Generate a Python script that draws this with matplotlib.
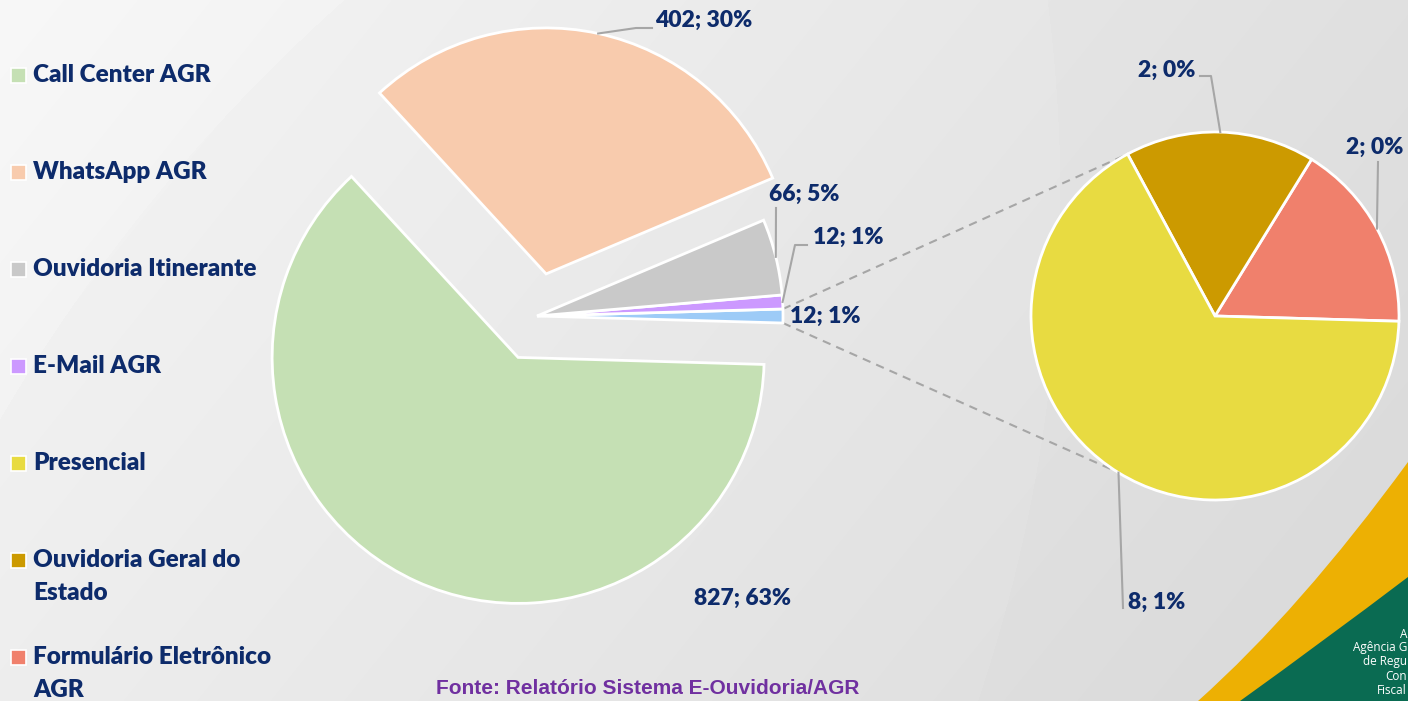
import matplotlib.pyplot as plt
import numpy as np
from matplotlib.patches import Rectangle, PathPatch
from matplotlib.path import Path

# data
categories = ['Call Center AGR', 'WhatsApp AGR', 'Ouvidoria Itinerante', 'E-Mail AGR',
              'Presencial', 'Ouvidoria Geral do Estado', 'Formulário Eletrônico AGR']
legend_labels = ['Call Center AGR', 'WhatsApp AGR', 'Ouvidoria Itinerante', 'E-Mail AGR',
                 'Presencial', 'Ouvidoria Geral do\nEstado', 'Formulário Eletrônico\nAGR']
counts = [827, 402, 66, 12, 8, 2, 2]
colors = ['#C5E0B4', '#F8CBAD', '#C9C9C9', '#CC99FF', '#E8DB41', '#CC9A00', '#F0806C']
other_color = '#9DCBF7'
source = 'Fonte: Relatório Sistema E-Ouvidoria/AGR'
logo_lines = ['A', 'Agência G', 'de Regu', 'Con', 'Fiscal']

W, H = 1408, 701
NAVY = '#0D2B6B'
LEADER = '#A6A6A6'
FONT = 'Lato'

fig = plt.figure(figsize=(W / 100, H / 100), dpi=100)
ax = fig.add_axes([0, 0, 1, 1])


def py(y):
    # pixel row (top-down) -> data y
    return H - y


# background
yy, xx = np.mgrid[0:H, 0:W]
bg = 0.972 - 0.075 * (xx / W) - 0.03 * (yy / H)
bg -= 0.010 * (np.hypot(xx - 1500, yy - 1300) < 1740)
bg -= 0.008 * (np.hypot(xx + 500, yy - 200) > 1560)
ax.imshow(np.dstack([bg, bg, bg]), extent=[0, W, 0, H], origin='upper', zorder=0)

# logo corner
orange = Path([(1198, py(701)), (1300, py(610)), (1408, py(462)), (1408, py(701)), (1198, py(701))],
              [Path.MOVETO, Path.CURVE3, Path.CURVE3, Path.LINETO, Path.CLOSEPOLY])
ax.add_patch(PathPatch(orange, facecolor='#EDB003', edgecolor='none', zorder=1))
green = Path([(1240, py(701)), (1325, py(640)), (1408, py(577)), (1408, py(701)), (1240, py(701))],
             [Path.MOVETO, Path.CURVE3, Path.CURVE3, Path.LINETO, Path.CLOSEPOLY])
ax.add_patch(PathPatch(green, facecolor='#0A6B52', edgecolor='none', zorder=1))
for i, line in enumerate(logo_lines):
    ax.text(1407, py(634 + 14 * i), line, color='white', fontsize=8.5, ha='right', va='center',
            family='Open Sans', zorder=2)

# main pie: others wedge first so it sits on the right
total = sum(counts)
main_vals = [sum(counts[4:]), counts[3], counts[2], counts[1], counts[0]]
main_cols = [other_color, colors[3], colors[2], colors[1], colors[0]]
start = -180 * main_vals[0] / total
main_c = (537, py(316))
main_r = 246
wedges_main, _ = ax.pie(main_vals, colors=main_cols, startangle=start, center=main_c, radius=main_r,
                        explode=[0, 0, 0, 0.175 * main_r, 0.185 * main_r],
                        wedgeprops=dict(edgecolor='white', linewidth=2))
for w in wedges_main:
    w.set_zorder(3)

# secondary pie
sec_vals = [counts[6], counts[5], counts[4]]
sec_cols = [colors[6], colors[5], colors[4]]
sec_c = (1215, py(316))
sec_r = 184
wedges_sec, _ = ax.pie(sec_vals, colors=sec_cols, startangle=start, center=sec_c, radius=sec_r,
                       wedgeprops=dict(edgecolor='white', linewidth=2))
for w in wedges_sec:
    w.set_zorder(3)

# connector lines
ow = wedges_main[0]
for th_main, th_sec in [(ow.theta2, 118.5), (ow.theta1, 238)]:
    x0 = main_c[0] + main_r * np.cos(np.deg2rad(th_main))
    y0 = main_c[1] + main_r * np.sin(np.deg2rad(th_main))
    x1 = sec_c[0] + sec_r * np.cos(np.deg2rad(th_sec))
    y1 = sec_c[1] + sec_r * np.sin(np.deg2rad(th_sec))
    ax.plot([x0, x1], [y0, y1], color=LEADER, lw=1.5, ls=(0, (4, 3)), zorder=2)


def edge_point(w):
    mid = np.deg2rad((w.theta1 + w.theta2) / 2)
    return w.center[0] + w.r * np.cos(mid), w.center[1] + w.r * np.sin(mid)


def label(w, value, pos, elbow):
    txt = f'{value}; {round(100 * value / total)}%'
    ax.text(pos[0], py(pos[1]), txt, color=NAVY, fontsize=16.5, fontweight='heavy', family=FONT,
            ha='center', va='center', zorder=5)
    if elbow:
        ex, ey = edge_point(w)
        xs = [ex] + [p[0] for p in elbow]
        ys = [ey] + [py(p[1]) for p in elbow]
        ax.plot(xs, ys, color=LEADER, lw=1.5, zorder=4)


# label text positions and leader elbows (pixels)
label(wedges_main[0], main_vals[0], (825, 316), None)
label(wedges_main[1], main_vals[1], (848, 237), [(795, 245), (807, 245)])
label(wedges_main[2], main_vals[2], (804, 194), [(776, 208)])
label(wedges_main[3], main_vals[3], (704, 20), [(636, 28), (652, 28)])
label(wedges_main[4], main_vals[4], (742, 598), None)
label(wedges_sec[0], sec_vals[0], (1375, 147), [(1378, 162)])
label(wedges_sec[1], sec_vals[1], (1167, 70), [(1211, 76), (1200, 76)])
label(wedges_sec[2], sec_vals[2], (1157, 602), [(1123, 608)])

# legend
for i, (lab, col) in enumerate(zip(legend_labels, colors)):
    y0 = 75 + 97 * i
    ax.add_patch(Rectangle((11, py(y0) - 7.5), 15, 15, facecolor=col, edgecolor='white', lw=1.2, zorder=5))
    for k, line in enumerate(lab.split('\n')):
        ax.text(33, py(y0 + 33 * k), line, color=NAVY, fontsize=17.5, fontweight='heavy', family=FONT,
                ha='left', va='center', zorder=5)

ax.text(648, py(689), source, color='#7030A0', fontsize=15, fontweight='bold',
        family='Liberation Sans', ha='center', va='center', zorder=5)

ax.set_xlim(0, W)
ax.set_ylim(0, H)
ax.set_aspect('equal')
ax.axis('off')
fig.savefig('out.png', dpi=100)
